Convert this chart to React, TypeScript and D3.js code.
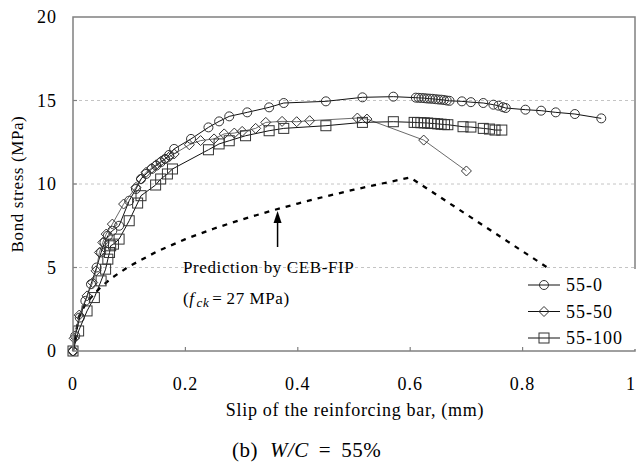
import React from "react";
import * as d3 from "d3";

const xTicks = [0, 0.2, 0.4, 0.6, 0.8, 1];
const xTickLabels = ["0", "0.2", "0.4", "0.6", "0.8", "1"];
const yTicks = [0, 5, 10, 15, 20];
const yTickLabels = ["0", "5", "10", "15", "20"];
const seriesNames = ["55-0", "55-50", "55-100"];

const slip0 = [0, 0.004, 0.012, 0.022, 0.032, 0.042, 0.05, 0.056, 0.062, 0.07, 0.082, 0.1, 0.112, 0.121, 0.13, 0.14, 0.148, 0.156, 0.164, 0.171, 0.18, 0.21, 0.241, 0.26, 0.278, 0.31, 0.349, 0.375, 0.45, 0.515, 0.57, 0.61, 0.615, 0.62, 0.625, 0.63, 0.635, 0.64, 0.645, 0.65, 0.655, 0.66, 0.665, 0.67, 0.692, 0.708, 0.73, 0.748, 0.757, 0.765, 0.77, 0.805, 0.833, 0.859, 0.893, 0.94];
const stress0 = [0, 0.9, 2.0, 3.0, 4.0, 5.0, 5.9, 6.5, 6.9, 7.2, 7.5, 9.0, 9.7, 10.3, 10.6, 10.9, 11.1, 11.3, 11.5, 11.74, 12.1, 12.7, 13.39, 13.75, 14.05, 14.29, 14.59, 14.85, 14.95, 15.19, 15.23, 15.17, 15.16, 15.15, 15.14, 15.12, 15.11, 15.1, 15.08, 15.06, 15.05, 15.03, 15.0, 14.98, 14.95, 14.9, 14.85, 14.75, 14.69, 14.6, 14.55, 14.45, 14.39, 14.29, 14.19, 13.93];

const slip50 = [0, 0.002, 0.011, 0.025, 0.035, 0.041, 0.047, 0.053, 0.059, 0.07, 0.09, 0.112, 0.121, 0.13, 0.14, 0.148, 0.156, 0.164, 0.172, 0.18, 0.207, 0.227, 0.251, 0.269, 0.287, 0.301, 0.325, 0.343, 0.372, 0.398, 0.421, 0.506, 0.523, 0.624, 0.7];
const stress50 = [0, 0.76, 2.15, 3.3, 4.1, 4.8, 5.9, 6.5, 7.0, 7.6, 8.8, 9.8, 10.3, 10.7, 10.95, 11.15, 11.35, 11.5, 11.65, 11.8, 12.35, 12.6, 12.7, 13.0, 13.05, 13.15, 13.33, 13.69, 13.75, 13.73, 13.79, 13.95, 13.89, 12.63, 10.78];

const slip100 = [0, 0.01, 0.025, 0.038, 0.05, 0.058, 0.062, 0.065, 0.067, 0.072, 0.082, 0.1, 0.115, 0.121, 0.147, 0.156, 0.168, 0.177, 0.241, 0.26, 0.278, 0.307, 0.349, 0.375, 0.45, 0.515, 0.57, 0.607, 0.613, 0.619, 0.625, 0.631, 0.637, 0.643, 0.649, 0.655, 0.661, 0.667, 0.694, 0.708, 0.73, 0.741, 0.751, 0.763];
const stress100 = [0, 1.2, 2.4, 3.2, 4.2, 4.9, 5.5, 5.9, 6.3, 6.4, 6.7, 7.8, 8.86, 9.3, 9.94, 10.3, 10.6, 10.9, 12.05, 12.4, 12.59, 12.89, 13.19, 13.33, 13.49, 13.69, 13.73, 13.69, 13.68, 13.67, 13.66, 13.65, 13.63, 13.62, 13.6, 13.58, 13.56, 13.55, 13.43, 13.41, 13.33, 13.29, 13.23, 13.23];

const predSlip = [0, 0.01, 0.02, 0.03, 0.05, 0.07, 0.1, 0.15, 0.2, 0.25, 0.3, 0.35, 0.4, 0.45, 0.5, 0.55, 0.6, 0.7, 0.8, 0.9, 1.0];
const predStress = [0, 2.02, 2.67, 3.13, 3.85, 4.4, 5.07, 5.97, 6.7, 7.32, 7.87, 8.37, 8.83, 9.26, 9.66, 10.03, 10.39, 8.18, 5.97, 3.77, 1.56];

const W = 637;
const H = 464;
const L = 73, R = 635, T = 17, B = 351;
const FONT = "'Liberation Serif', 'Times New Roman', serif";

function Marker({ kind, x, y }: { kind: string; x: number; y: number }) {
  const st = { fill: "none", stroke: "#333", strokeWidth: 1 };
  if (kind === "circle") return <circle cx={x} cy={y} r={4.5} {...st} />;
  if (kind === "diamond")
    return <path d={`M${x},${y - 5}L${x + 5},${y}L${x},${y + 5}L${x - 5},${y}Z`} {...st} />;
  return <rect x={x - 5} y={y - 5} width={10} height={10} {...st} />;
}

export default function App() {
  const x = d3.scaleLinear().domain([0, 1]).range([L, R]);
  const y = d3.scaleLinear().domain([0, 20]).range([B, T]);
  const line = d3.line<[number, number]>().x((d) => x(d[0])).y((d) => y(d[1]));

  const series = [
    { kind: "circle", xs: slip0, ys: stress0, color: "#111", w: 1 },
    { kind: "diamond", xs: slip50, ys: stress50, color: "#444", w: 0.8 },
    { kind: "square", xs: slip100, ys: stress100, color: "#111", w: 1 },
  ];
  const pred: [number, number][] = predSlip.map((s, i) => [s, predStress[i]]);
  const ax = x(0.364);

  return (
    <svg width={W} height={H} style={{ position: "absolute", left: 0, top: 0, background: "#fff" }} fontFamily={FONT}>
      <rect x={0} y={0} width={W} height={H} fill="#fff" />
      {yTicks.slice(1, 4).map((t) => (
        <line key={t} x1={L} x2={R} y1={y(t)} y2={y(t)} stroke="#c4c4c4" strokeDasharray="3,3" strokeWidth={1} />
      ))}
      <path d={line(pred) || ""} fill="none" stroke="#000" strokeWidth={2.3} strokeDasharray="5,6" />
      {series.map((s, si) => {
        const pts: [number, number][] = s.xs.map((v, i) => [v, s.ys[i]]);
        return (
          <g key={si}>
            <path d={line(pts) || ""} fill="none" stroke={s.color} strokeWidth={s.w} />
            {pts.map((p, i) => (
              <Marker key={i} kind={s.kind} x={x(p[0])} y={y(p[1])} />
            ))}
          </g>
        );
      })}
      <rect x={L} y={T} width={R - L} height={B - T} fill="none" stroke="#808080" strokeWidth={1.5} />
      <rect x={519} y={269} width={118} height={80} fill="#fff" />
      {seriesNames.map((n, i) => {
        const cy = 285 + i * 26.5;
        return (
          <g key={n}>
            <line x1={528} x2={560} y1={cy} y2={cy} stroke="#111" strokeWidth={1} />
            <Marker kind={series[i].kind} x={544} y={cy} />
            <text x={566} y={cy} dy="0.35em" fontSize={18} letterSpacing={1} fill="#000">{n}</text>
          </g>
        );
      })}
      {xTicks.slice(1, 5).map((t) => (
        <line key={t} x1={x(t)} x2={x(t)} y1={B} y2={B - 4} stroke="#808080" strokeWidth={1.2} />
      ))}
      {yTicks.slice(1, 4).map((t) => (
        <line key={t} x1={L} x2={L + 4} y1={y(t)} y2={y(t)} stroke="#808080" strokeWidth={1.2} />
      ))}
      {xTicks.map((t, i) => (
        <text key={t} x={t === 1 ? 631 : x(t)} y={384} dy="0.35em" textAnchor="middle" fontSize={18} letterSpacing={1}>{xTickLabels[i]}</text>
      ))}
      {yTicks.map((t, i) => (
        <text key={t} x={57} y={y(t)} dy="0.35em" textAnchor="end" fontSize={18} letterSpacing={1}>{yTickLabels[i]}</text>
      ))}
      <text x={355} y={410} dy="0.35em" textAnchor="middle" fontSize={18} letterSpacing={0.7}>Slip of the reinforcing bar, (mm)</text>
      <text transform={`translate(17,${(T + B) / 2}) rotate(-90)`} textAnchor="middle" dy="0.35em" fontSize={17} letterSpacing={0.6}>Bond stress (MPa)</text>
      <line x1={ax} x2={ax} y1={247} y2={222} stroke="#000" strokeWidth={1.5} />
      <path d={`M${ax},${211}L${ax + 4},${223}L${ax - 4},${223}Z`} fill="#000" />
      <text x={183} y={267} dy="0.35em" fontSize={17} letterSpacing={0.6}>Prediction by CEB-FIP</text>
      <text x={183} y={298} dy="0.35em" fontSize={17} letterSpacing={0.6}>
        (<tspan fontStyle="italic">f</tspan>
        <tspan fontStyle="italic" fontSize={13} dy="3" dx="2">ck</tspan>
        <tspan dy="-3" dx="3">=</tspan>
        <tspan dx="4">27 MPa)</tspan>
      </text>
      <text x={232} y={450} dy="0.35em" fontSize={21} letterSpacing={0.5}>
        (b)
        <tspan dx="12" fontStyle="italic">W/C</tspan>
        <tspan dx="10">=</tspan>
        <tspan dx="10">55%</tspan>
      </text>
    </svg>
  );
}
